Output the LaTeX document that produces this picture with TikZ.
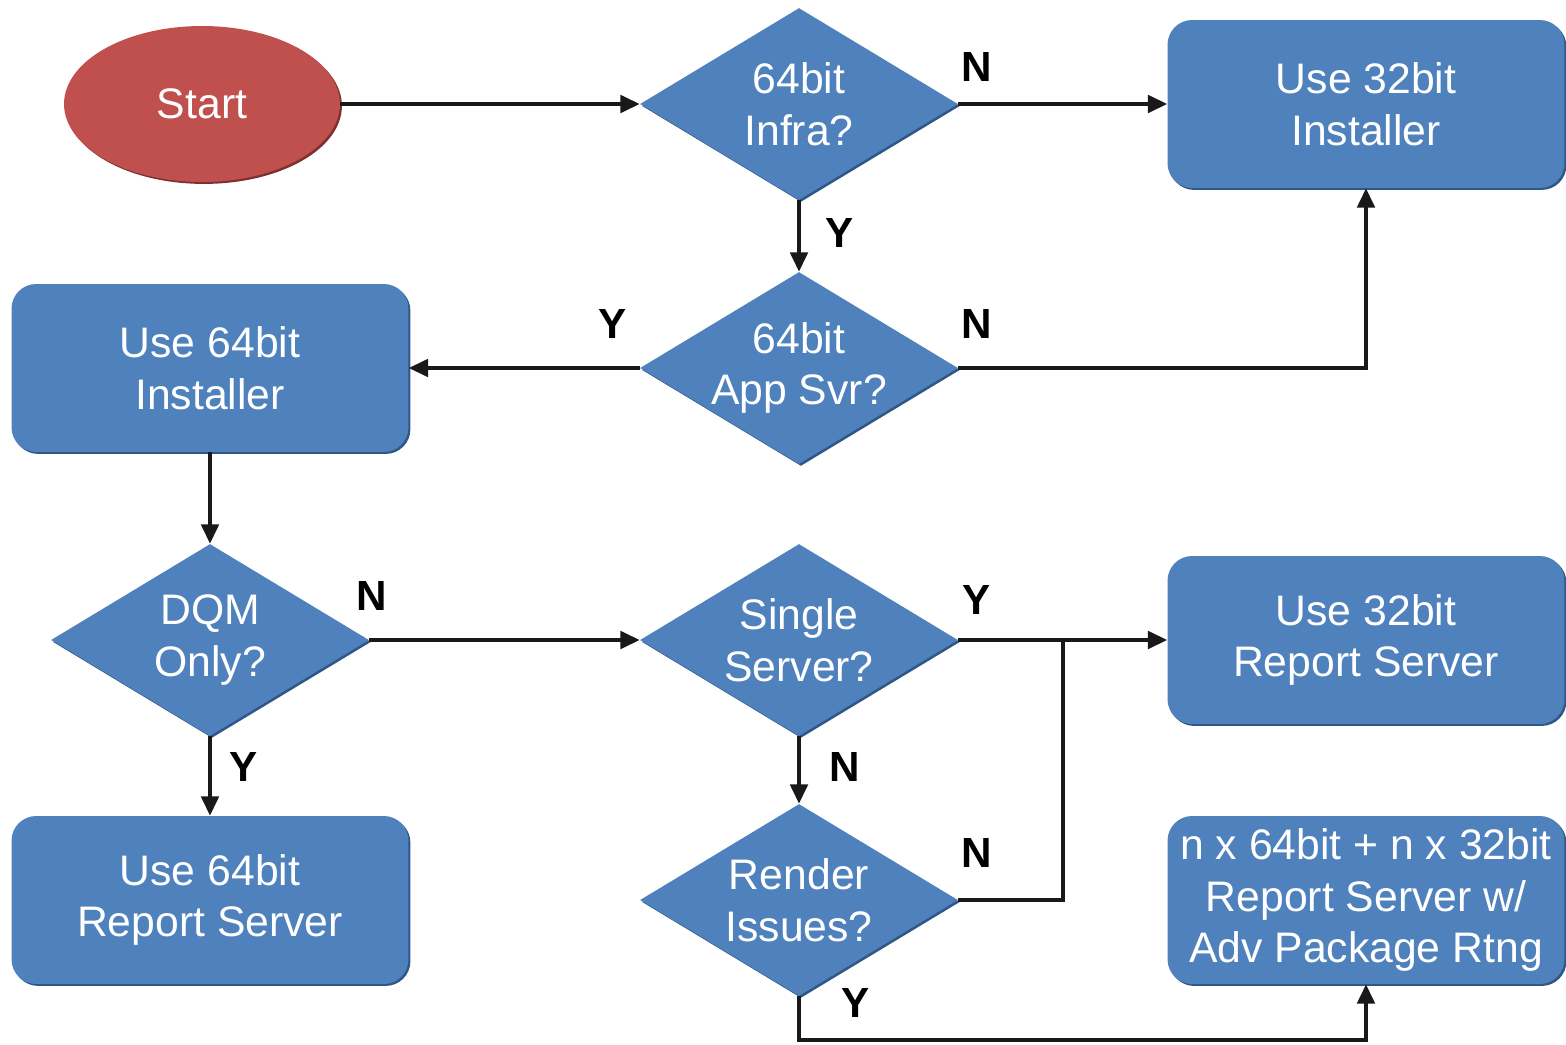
\documentclass[tikz,border=0pt]{standalone}
\usepackage{fontspec}
\setmainfont{Liberation Sans}
\usetikzlibrary{shapes.geometric,arrows.meta,shadows}
\definecolor{boxblue}{HTML}{4F81BD}
\definecolor{boxdark}{HTML}{2F5788}
\definecolor{startred}{HTML}{C0504D}
\definecolor{startdark}{HTML}{7F2F2D}
\begin{document}
\begin{tikzpicture}[x=0.02cm,y=-0.02cm,
  shad/.style={drop shadow={shadow xshift=1.1pt,shadow yshift=-1.1pt,fill=#1,opacity=1}},
  ntext/.style={text=white,align=center,font=\fontsize{24.3}{29.5}\selectfont},
  box/.style={rectangle,rounded corners=14pt,fill=boxblue,shad=boxdark,
    minimum width=7.94cm,minimum height=3.36cm,inner sep=0pt,ntext},
  dia/.style={diamond,fill=boxblue,shad=boxdark,minimum width=6.36cm,
    minimum height=3.84cm,inner sep=0pt},
  dtext/.style={ntext,inner sep=0pt},
  startnode/.style={ellipse,fill=startred,shad=startdark,minimum width=5.52cm,
    minimum height=3.12cm,inner sep=0pt,ntext},
  lbl/.style={font=\fontsize{24}{28}\selectfont\bfseries,text=black,inner sep=0pt},
  wire/.style={line width=2pt,draw=black!90},
  conn/.style={wire,-{Triangle[length=11pt,width=10pt]}}
]
\useasboundingbox (0,0) rectangle (1566,1045);

% nodes
\node[startnode] (start) at (202,104) {Start};
\node[dia,label={[dtext]center:{64bit\\Infra?}}] (d1) at (799,104) {};
\node[dia,label={[dtext]center:{64bit\\App Svr?}}] (d2) at (799,368) {};
\node[dia,label={[dtext]center:{DQM\\Only?}}] (dqm) at (210,640) {};
\node[dia,label={[dtext]center:{Single\\Server?}}] (ss) at (799,640) {};
\node[dia,label={[dtext]center:{Render\\Issues?}}] (ri) at (799,900) {};

\node[box] (b32i) at (1366,104) {Use 32bit\\Installer};
\node[box] (b64i) at (210,368) {Use 64bit\\Installer};
\node[box] (b32r) at (1366,640) {Use 32bit\\Report Server};
\node[box] (b64r) at (210,900) {Use 64bit\\Report Server};
\node[box] (bn) at (1366,900) {n x 64bit + n x 32bit\\Report Server w/\\Adv Package Rtng};

% connectors
\draw[conn] (start.east) -- (d1.west);
\draw[conn] (d1.east) -- (b32i.west);
\draw[conn] (d1.south) -- (d2.north);
\draw[conn] (d2.west) -- (b64i.east);
\draw[conn] (d2.east) -| (b32i.south);
\draw[conn] (b64i.south) -- (dqm.north);
\draw[conn] (dqm.east) -- (ss.west);
\draw[conn] (dqm.south) -- (b64r.north);
\draw[conn] (ss.east) -- (b32r.west);
\draw[conn] (ss.south) -- (ri.north);
\coordinate (j) at (1063,640);
\draw[wire] (ri.east) -| (j);
\coordinate (k) at (799,1040);
\draw[conn] (ri.south) -- (k) -| (bn.south);

% labels
\node[lbl] (l1) at (977,67) {N};
\node[lbl] (l2) at (840,233) {Y};
\node[lbl] (l3) at (613,324) {Y};
\node[lbl] (l4) at (977,324) {N};
\node[lbl] (l5) at (372,596) {N};
\node[lbl] (l6) at (977,600) {Y};
\node[lbl] (l7) at (244,767) {Y};
\node[lbl] (l8) at (845,767) {N};
\node[lbl] (l9) at (977,853) {N};
\node[lbl] (l10) at (856,1003) {Y};
\end{tikzpicture}
\end{document}
